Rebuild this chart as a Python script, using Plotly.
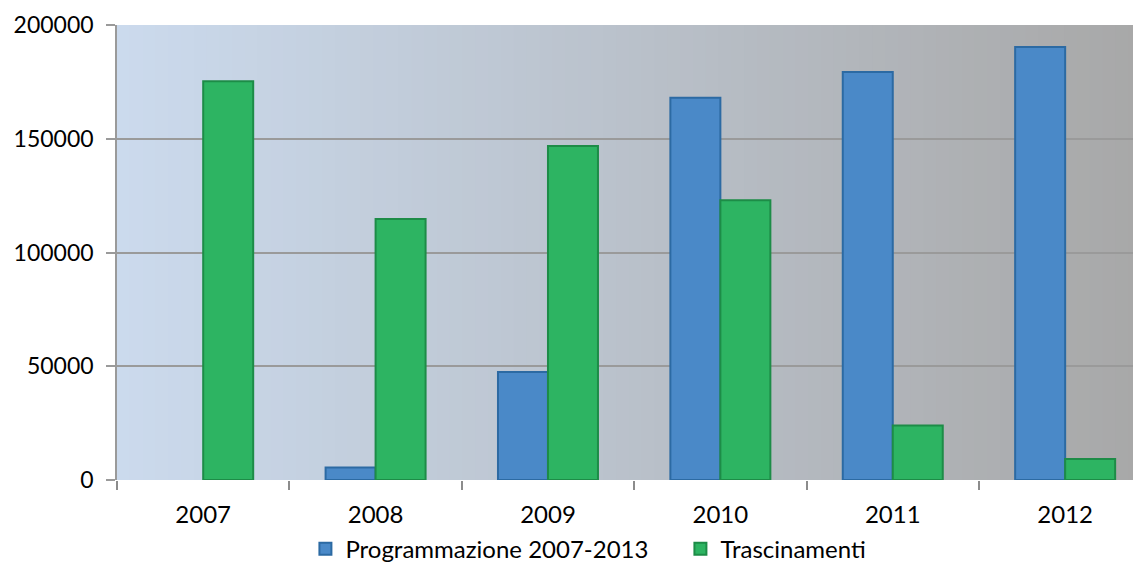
import plotly.graph_objects as go

# Dati
anni = ["2007", "2008", "2009", "2010", "2011", "2012"]
programmazione = [None, 5500, 47500, 168000, 179300, 190300]
trascinamenti = [175300, 114700, 146800, 123000, 24000, 9200]

fig = go.Figure()

fig.add_trace(go.Bar(
    x=anni, y=programmazione,
    name="Programmazione 2007-2013",
    marker=dict(color="#4a89c8", line=dict(color="#2c6aa3", width=2)),
))
fig.add_trace(go.Bar(
    x=anni, y=trascinamenti,
    name="Trascinamenti",
    marker=dict(color="#2db462", line=dict(color="#1d8c47", width=2)),
))

# Sfondo sfumato dell'area del grafico (da azzurro a grigio)
c0 = (203, 218, 237)
c1 = (168, 168, 168)
n = 80
for i in range(n):
    t = i / (n - 1)
    col = tuple(int(round(a + (b - a) * t)) for a, b in zip(c0, c1))
    fig.add_shape(
        type="rect", xref="paper", yref="paper",
        x0=i / n, x1=(i + 1) / n + 0.002, y0=0, y1=1,
        fillcolor="rgb(%d,%d,%d)" % col, line=dict(width=0), layer="below",
    )

font = dict(family="Lato, Open Sans, sans-serif", size=23, color="black")
legfont = dict(family="Lato, Open Sans, sans-serif", size=24, color="black")

# la pagina ha un margine di 8px attorno al grafico
fig.update_layout(
    width=1141, height=587,
    margin=dict(l=109, r=8, t=17, b=115),
    paper_bgcolor="white",
    plot_bgcolor="rgba(0,0,0,0)",
    barmode="group",
    bargap=0.42,
    bargroupgap=0,
    font=font,
    showlegend=True,
    legend=dict(orientation="h", x=0.184, xanchor="left", y=-0.152,
                yanchor="middle", font=legfont, itemwidth=30,
                entrywidth=330),
    xaxis=dict(
        range=[-0.5, 5.44], automargin=False,
        showgrid=False, showline=False,
        ticks="outside", tickson="boundaries", ticklen=9,
        tickcolor="#8c8c8c", tickwidth=1.5,
        tickfont=dict(family="Lato, Open Sans, sans-serif", size=24,
                      color="black"),
        ticklabelstandoff=18,
    ),
    yaxis=dict(
        range=[0, 200000], automargin=False,
        tickvals=[0, 50000, 100000, 150000, 200000],
        ticktext=["0", "50000", "100000", "150000", "200000"],
        showgrid=True, gridcolor="#9a9a9a", gridwidth=1.5,
        showline=True, linecolor="#9a9a9a", linewidth=1.5,
        ticks="outside", ticklen=9, tickcolor="#9a9a9a", tickwidth=1.5,
        tickfont=font, ticklabelstandoff=8, zeroline=False,
    ),
)

fig.write_html("out.html")
